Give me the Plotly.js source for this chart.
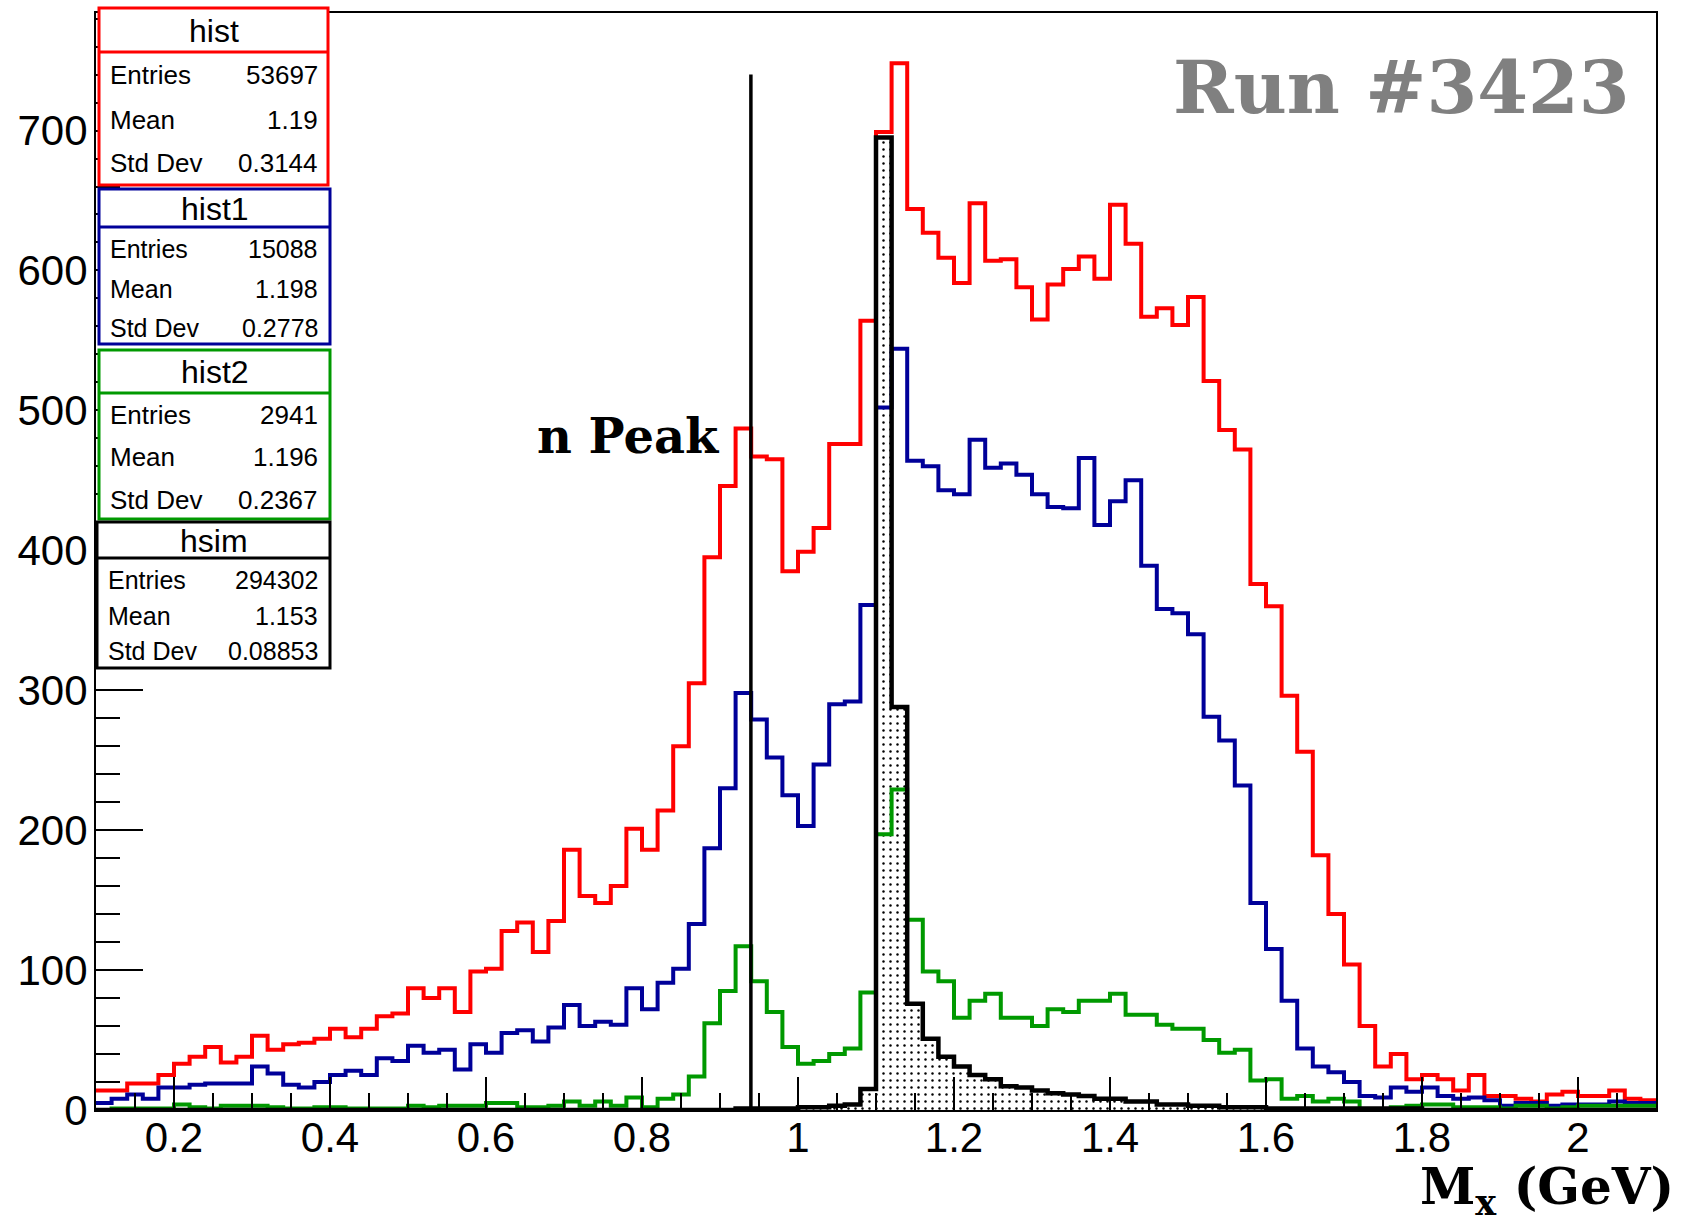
<!DOCTYPE html>
<html>
<head>
<meta charset="utf-8">
<script src="https://cdn.plot.ly/plotly-3.0.1.min.js"></script>
<style>html,body{margin:0;padding:0;background:#fff;}#chart{width:1685px;height:1218px;}</style>
</head>
<body>
<div id="chart"></div>
<script>
// ---------- binning ----------
const X_MIN = 0.1;
const BIN_W = 0.02;
const N_BINS = 100;

// ---------- histogram contents ----------
const hist = [
  14, 14, 19, 19, 25, 33, 38, 45, 34, 38,
  53, 43, 47, 48, 51, 58, 52, 58, 67, 69,
  87, 80, 87, 70, 99, 101, 128, 134, 113, 135,
  186, 153, 148, 160, 201, 186, 214, 260, 305, 395,
  446, 487, 467, 465, 385, 399, 416, 476, 476, 564,
  699, 748, 644, 627, 609, 591, 648, 607, 608, 588,
  565, 590, 601, 610, 594, 647, 619, 567, 573, 561,
  581, 521, 486, 472, 376, 360, 296, 256, 182, 140,
  104, 60, 31, 40, 22, 25, 22, 14, 25, 10,
  10, 8, 6, 11, 13, 10, 10, 14, 8, 7
];
const hist1 = [
  5, 8, 11, 8, 16, 16, 18, 19, 19, 19,
  31, 26, 18, 16, 20, 25, 28, 25, 37, 35,
  46, 41, 43, 29, 47, 41, 55, 57, 49, 59,
  75, 60, 63, 61, 87, 72, 91, 101, 133, 187,
  230, 298, 279, 252, 225, 203, 247, 290, 292, 361,
  502, 544, 464, 460, 443, 440, 479, 459, 462, 454,
  440, 431, 430, 466, 418, 435, 450, 389, 358, 355,
  340, 281, 264, 232, 148, 115, 78, 44, 31, 27,
  20, 10, 9, 16, 13, 16, 10, 8, 9, 7,
  3, 5, 5, 3, 4, 4, 4, 6, 5, 5
];
const hist2 = [
  0, 1, 1, 1, 1, 4, 2, 1, 3, 3,
  3, 2, 1, 1, 2, 2, 1, 1, 1, 1,
  3, 2, 3, 3, 3, 5, 5, 2, 2, 3,
  6, 3, 6, 3, 9, 2, 8, 11, 24, 62,
  85, 117, 92, 70, 45, 33, 35, 40, 44, 84,
  197, 229, 136, 99, 92, 66, 78, 83, 66, 66,
  60, 72, 70, 78, 78, 83, 68, 68, 61, 58,
  58, 50, 41, 43, 21, 22, 8, 10, 6, 8,
  6, 0, 0, 2, 3, 4, 4, 2, 2, 2,
  1, 3, 3, 1, 2, 3, 3, 3, 3, 3
];
const hsim = [
  0, 0, 0, 0, 0, 0, 0, 0, 0, 0,
  0, 0, 0, 0, 0, 0, 0, 0, 0, 0,
  0, 0, 0, 0, 0, 0, 0, 0, 0, 0,
  0, 0, 0, 0, 0, 0, 0, 0, 0, 0,
  0, 1, 1, 1, 1, 2, 2, 3, 4, 15,
  695, 288, 76, 51, 38, 31, 25, 22, 17, 16,
  14, 12, 11, 10, 8, 8, 6, 6, 4, 4,
  3, 3, 2, 2, 2, 1, 1, 1, 1, 1,
  1, 1, 1, 1, 1, 0, 0, 0, 0, 0,
  0, 0, 0, 0, 0, 0, 0, 0, 0, 0
];

// neutron peak marker
const NPEAK_X = 0.9396;
const NPEAK_TOP = 740;

// ---------- tick labels ----------
const xTickVals = [0.2, 0.4, 0.6, 0.8, 1.0, 1.2, 1.4, 1.6, 1.8, 2.0];
const xTickText = ['0.2', '0.4', '0.6', '0.8', '1', '1.2', '1.4', '1.6', '1.8', '2'];
const yTickVals = [0, 100, 200, 300, 400, 500, 600, 700];
const yTickText = ['0', '100', '200', '300', '400', '500', '600', '700'];

// ---------- stats boxes ----------
const statNames   = ['hist', 'hist1', 'hist2', 'hsim'];
const statEntries = ['53697', '15088', '2941', '294302'];
const statMean    = ['1.19', '1.198', '1.196', '1.153'];
const statStd     = ['0.3144', '0.2778', '0.2367', '0.08853'];

// ---------- build ----------
const edges = Array.from({length: N_BINS + 1}, (_, i) => +(X_MIN + i * BIN_W).toFixed(4));
const stepY = v => v.concat([v[v.length - 1]]);

const RED = '#ff0000', BLUE = '#000099', GREEN = '#009900', BLACK = '#000000';

const traces = [
  { // hsim dotted fill
    x: edges, y: stepY(hsim), type: 'scatter', mode: 'lines',
    line: {shape: 'hv', width: 0, color: 'rgba(0,0,0,0)'},
    fill: 'tozeroy', fillcolor: 'rgba(0,0,0,0)',
    fillpattern: {shape: '.', size: 7, solidity: 0.1, fgcolor: '#000000', bgcolor: 'rgba(255,255,255,0)'},
    hoverinfo: 'skip', showlegend: false
  },
  {x: edges, y: stepY(hist),  type: 'scatter', mode: 'lines', line: {shape: 'hv', width: 4, color: RED},   name: 'hist',  showlegend: false},
  {x: edges, y: stepY(hist1), type: 'scatter', mode: 'lines', line: {shape: 'hv', width: 4, color: BLUE},  name: 'hist1', showlegend: false},
  {x: edges, y: stepY(hist2), type: 'scatter', mode: 'lines', line: {shape: 'hv', width: 4, color: GREEN}, name: 'hist2', showlegend: false},
  {x: edges, y: stepY(hsim),  type: 'scatter', mode: 'lines', line: {shape: 'hv', width: 4.5, color: BLACK}, name: 'hsim', showlegend: false},
  {x: [NPEAK_X, NPEAK_X], y: [0, NPEAK_TOP], type: 'scatter', mode: 'lines', line: {width: 3.5, color: BLACK}, showlegend: false, hoverinfo: 'skip'}
];

// pixel -> paper helpers for overlays (plot area: x 96..1656, y 13..1110)
const L = 96, R = 1656, T = 13, B = 1110;
const PX = p => (p - L) / (R - L);
const PY = p => (B - p) / (B - T);

const shapes = [];
const annotations = [];
const SANS = 'Liberation Sans, Arial, Helvetica, sans-serif';
const SERIF = 'DejaVu Serif, serif';

const boxes = [
  {x0: 99, x1: 328, y0: 8,   y1: 185, div: 52,  color: RED,   titleY: 31,  rows: [75, 120, 163], fs: 26},
  {x0: 99, x1: 330, y0: 189, y1: 344, div: 227, color: BLUE,  titleY: 209, rows: [249, 289, 328], fs: 25},
  {x0: 99, x1: 330, y0: 350, y1: 519, div: 393, color: GREEN, titleY: 372, rows: [415, 457, 500], fs: 26},
  {x0: 97, x1: 330, y0: 522, y1: 668, div: 558, color: BLACK, titleY: 541, rows: [580, 616, 651], fs: 25}
];
boxes.forEach((b, k) => {
  shapes.push({type: 'rect', xref: 'paper', yref: 'paper', layer: 'above',
    x0: PX(b.x0), x1: PX(b.x1), y0: PY(b.y1), y1: PY(b.y0),
    fillcolor: '#ffffff', line: {color: b.color, width: 3}});
  shapes.push({type: 'line', xref: 'paper', yref: 'paper', layer: 'above',
    x0: PX(b.x0), x1: PX(b.x1), y0: PY(b.div), y1: PY(b.div),
    line: {color: b.color, width: 3}});
  annotations.push({xref: 'paper', yref: 'paper', x: PX((b.x0 + b.x1) / 2), y: PY(b.titleY),
    xanchor: 'center', yanchor: 'middle', showarrow: false, text: statNames[k],
    font: {family: SANS, size: 32, color: '#000'}});
  const labels = ['Entries', 'Mean', 'Std Dev'];
  const vals = [statEntries[k], statMean[k], statStd[k]];
  for (let r = 0; r < 3; r++) {
    annotations.push({xref: 'paper', yref: 'paper', x: PX(b.x0 + 9), y: PY(b.rows[r]),
      xanchor: 'left', yanchor: 'middle', showarrow: false, text: labels[r],
      font: {family: SANS, size: b.fs, color: '#000'}});
    annotations.push({xref: 'paper', yref: 'paper', x: PX(320), y: PY(b.rows[r]),
      xanchor: 'right', yanchor: 'middle', showarrow: false, text: vals[r],
      font: {family: SANS, size: b.fs, color: '#000'}});
  }
});

annotations.push({xref: 'paper', yref: 'paper', x: PX(1632), y: PY(87), xanchor: 'right', yanchor: 'middle',
  showarrow: false, text: 'Run #3423', font: {family: SERIF, size: 73, color: '#808080', weight: 'bold'}});
annotations.push({xref: 'paper', yref: 'paper', x: PX(628), y: PY(436), xanchor: 'center', yanchor: 'middle',
  showarrow: false, text: 'n Peak', font: {family: SERIF, size: 48, color: '#000', weight: 'bold'}});
annotations.push({xref: 'paper', yref: 'paper', x: PX(1676), y: PY(1190), xanchor: 'right', yanchor: 'middle',
  showarrow: false, text: 'M<sub>x</sub> (GeV)', font: {family: SERIF, size: 50, color: '#000', weight: 'bold'}});

const layout = {
  width: 1685, height: 1218,
  margin: {l: L, r: 1685 - R, t: T, b: 1218 - B, pad: 0},
  paper_bgcolor: '#ffffff', plot_bgcolor: '#ffffff',
  showlegend: false,
  xaxis: {
    range: [0.1, 2.1], tickmode: 'array', tickvals: xTickVals, ticktext: xTickText,
    ticks: 'inside', ticklen: 33, tickwidth: 2, tickcolor: '#000',
    minor: {tickmode: 'linear', tick0: 0.1, dtick: 0.05, ticks: 'inside', ticklen: 17, tickwidth: 2, tickcolor: '#000'},
    showgrid: false, zeroline: false, showline: true, mirror: true, linecolor: '#000', linewidth: 2,
    tickfont: {family: SANS, size: 42, color: '#000'}, ticklabelstandoff: -10
  },
  yaxis: {
    range: [0, 784], tickmode: 'array', tickvals: yTickVals, ticktext: yTickText,
    ticks: 'inside', ticklen: 47, tickwidth: 2, tickcolor: '#000',
    minor: {tickmode: 'linear', tick0: 0, dtick: 20, ticks: 'inside', ticklen: 24, tickwidth: 2, tickcolor: '#000'},
    showgrid: false, zeroline: false, showline: true, mirror: true, linecolor: '#000', linewidth: 2,
    tickfont: {family: SANS, size: 42, color: '#000'}, ticklabelstandoff: -2
  },
  shapes: shapes,
  annotations: annotations
};

Plotly.newPlot('chart', traces, layout, {staticPlot: true, displayModeBar: false});
</script>
</body>
</html>
